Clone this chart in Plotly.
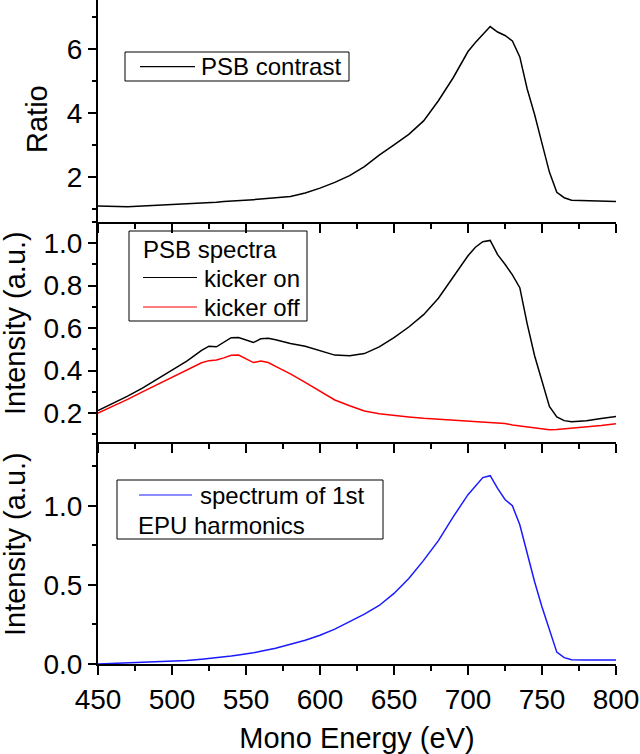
import plotly.graph_objects as go

energy = [450, 460, 470, 480, 490, 500, 510, 520, 525, 530, 535, 540, 545, 550, 555, 560,
          565, 570, 580, 590, 600, 610, 620, 630, 640, 650, 660, 670, 680, 690, 700, 705,
          710, 715, 720, 725, 730, 735, 740, 745, 750, 755, 760, 765, 770, 780, 790, 800]

psb_contrast = [1.09, 1.08, 1.07, 1.09, 1.11, 1.13, 1.16, 1.19, 1.20, 1.21, 1.23, 1.24, 1.26, 1.28, 1.29, 1.31,
                1.33, 1.35, 1.39, 1.50, 1.65, 1.83, 2.04, 2.32, 2.68, 3.00, 3.33, 3.75, 4.38, 5.10, 5.92, 6.20,
                6.45, 6.70, 6.53, 6.42, 6.25, 5.75, 4.75, 3.95, 3.05, 2.15, 1.52, 1.35, 1.27, 1.25, 1.24, 1.23]

kicker_on = [0.212, 0.245, 0.280, 0.318, 0.360, 0.400, 0.445, 0.495, 0.515, 0.512, 0.535, 0.555, 0.556, 0.545, 0.532, 0.550,
             0.552, 0.545, 0.528, 0.515, 0.495, 0.473, 0.470, 0.480, 0.512, 0.555, 0.605, 0.663, 0.740, 0.840, 0.940, 0.980,
             1.006, 1.012, 0.945, 0.900, 0.850, 0.790, 0.620, 0.470, 0.350, 0.232, 0.183, 0.165, 0.160, 0.165, 0.175, 0.184]

kicker_off = [0.200, 0.232, 0.265, 0.300, 0.335, 0.370, 0.405, 0.437, 0.447, 0.450, 0.460, 0.472, 0.473, 0.455, 0.438, 0.445,
              0.438, 0.420, 0.385, 0.345, 0.302, 0.262, 0.235, 0.210, 0.197, 0.188, 0.182, 0.176, 0.172, 0.168, 0.165, 0.163,
              0.160, 0.158, 0.157, 0.152, 0.145, 0.140, 0.135, 0.131, 0.128, 0.122, 0.123, 0.126, 0.129, 0.134, 0.142, 0.150]

epu_spectrum = [0.000, 0.003, 0.006, 0.009, 0.012, 0.015, 0.022, 0.030, 0.034, 0.038, 0.044, 0.050, 0.057, 0.063, 0.071, 0.080,
                0.090, 0.100, 0.125, 0.150, 0.182, 0.220, 0.268, 0.315, 0.370, 0.446, 0.540, 0.655, 0.780, 0.930, 1.070, 1.125,
                1.178, 1.190, 1.110, 1.040, 1.000, 0.880, 0.700, 0.520, 0.360, 0.210, 0.075, 0.040, 0.027, 0.025, 0.025, 0.025]

x_ticks = [450, 500, 550, 600, 650, 700, 750, 800]

W, H = 640, 754
ML, MR, MT, MB = 98, 24, 0, 90
PW = W - ML - MR
PH = H - MT - MB

def px(xp):
    return (xp - ML) / PW

def py(yp):
    return (MT + PH - yp) / PH

FONT = "Liberation Sans, Arial, sans-serif"

fig = go.Figure()
fig.add_trace(go.Scatter(x=energy, y=psb_contrast, mode="lines", name="PSB contrast",
                         line=dict(color="black", width=1.5), xaxis="x", yaxis="y"))
fig.add_trace(go.Scatter(x=energy, y=kicker_on, mode="lines", name="kicker on",
                         line=dict(color="black", width=1.5), xaxis="x2", yaxis="y2"))
fig.add_trace(go.Scatter(x=energy, y=kicker_off, mode="lines", name="kicker off",
                         line=dict(color="#ff0000", width=1.5), xaxis="x2", yaxis="y2"))
fig.add_trace(go.Scatter(x=energy, y=epu_spectrum, mode="lines", name="spectrum of 1st EPU harmonics",
                         line=dict(color="#1a1aff", width=1.5), xaxis="x3", yaxis="y3"))

def xax(anchor, labels):
    return dict(range=[450, 800], anchor=anchor, domain=[0, 1], showline=True, linecolor="black",
                linewidth=2, ticks="outside", ticklen=9, tickwidth=2, tickcolor="black",
                tickvals=x_ticks, showticklabels=labels, showgrid=False, zeroline=False,
                minor=dict(dtick=25, tick0=0, ticks="outside", ticklen=5, tickwidth=2, tickcolor="black"),
                tickfont=dict(family=FONT, size=28, color="black"))

def yax(anchor, rng, dom, dtick, mdtick, fmt):
    return dict(range=rng, anchor=anchor, domain=dom, showline=True, linecolor="black",
                linewidth=2, ticks="outside", ticklen=8, tickwidth=2, tickcolor="black",
                dtick=dtick, tick0=0, tickformat=fmt, showgrid=False, zeroline=False,
                minor=dict(dtick=mdtick, tick0=0, ticks="outside", ticklen=4, tickwidth=2, tickcolor="black"),
                tickfont=dict(family=FONT, size=28, color="black"))

d_top = [py(221.7), 1]
d_mid = [py(441.7), py(221.7)]
d_bot = [0, py(441.7)]

fig.update_layout(
    width=W, height=H, margin=dict(l=ML, r=MR, t=MT, b=MB, autoexpand=False),
    paper_bgcolor="white", plot_bgcolor="white", showlegend=False,
    font=dict(family=FONT, color="black"),
    xaxis=xax("y", False),
    xaxis2=xax("y2", False),
    xaxis3=dict(xax("y3", True), title=dict(text="Mono Energy (eV)", font=dict(family=FONT, size=29), standoff=14)),
    yaxis=yax("x", [0.6, 7.53], d_top, 2, 1, "d"),
    yaxis2=yax("x2", [0.066, 1.1], d_mid, 0.2, 0.1, ".1f"),
    yaxis3=yax("x3", [0, 1.405], d_bot, 0.5, 0.25, ".1f"),
)

# y axis titles
for txt, xx, yy in [("Ratio", 37, 119), ("Intensity (a.u.)", 15, 323), ("Intensity (a.u.)", 15, 544)]:
    fig.add_annotation(text=txt, x=px(xx), y=py(yy), xref="paper", yref="paper", showarrow=False,
                       textangle=-90, xanchor="center", yanchor="middle", font=dict(family=FONT, size=29))

LF = 24
def box(x0, y0, x1, y1):
    fig.add_shape(type="rect", xref="paper", yref="paper", x0=px(x0), x1=px(x1), y0=py(y1), y1=py(y0),
                  line=dict(color="black", width=1), fillcolor="rgba(0,0,0,0)")

def sample(x0, x1, y, color):
    fig.add_shape(type="line", xref="paper", yref="paper", x0=px(x0), x1=px(x1), y0=py(y), y1=py(y),
                  line=dict(color=color, width=1.2))

def label(txt, x, y):
    fig.add_annotation(text=txt, x=px(x), y=py(y), xref="paper", yref="paper", showarrow=False,
                       xanchor="left", yanchor="middle", font=dict(family=FONT, size=LF), borderpad=0)

# top legend
box(125, 52, 349, 81)
sample(140, 195, 66.7, "black")
label("PSB contrast", 200, 66.5)

# middle legend
box(129, 231, 307, 321)
label("PSB spectra", 142, 249.5)
sample(143, 197, 277.5, "black")
label("kicker on", 203, 278.5)
sample(143, 197, 307, "#ff0000")
label("kicker off", 203, 307.5)

# bottom legend
box(117, 480, 383, 539)
sample(139, 192, 495, "#1a1aff")
label("spectrum of 1st", 199, 495.5)
label("EPU harmonics", 137, 525.5)

fig.write_html("out.html", config={"displayModeBar": False},
               post_script="document.body.style.margin='0';document.body.style.padding='0';")
